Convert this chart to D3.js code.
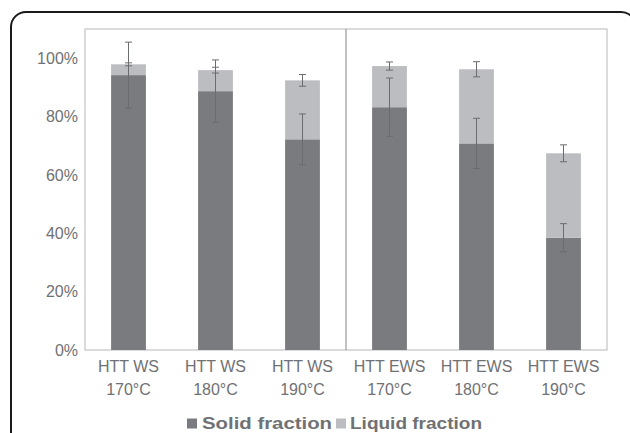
<!DOCTYPE html>
<html>
<head>
<meta charset="utf-8">
<script src="https://cdn.jsdelivr.net/npm/d3@7"></script>
<style>
  html, body { margin: 0; padding: 0; background: #fff; }
  svg { display: block; }
</style>
</head>
<body>
<svg id="chart" width="630" height="433"></svg>
<script>
// ---- data ----
const categoryNames = ["HTT WS", "HTT WS", "HTT WS", "HTT EWS", "HTT EWS", "HTT EWS"];
const temperatures = ["170°C", "180°C", "190°C", "170°C", "180°C", "190°C"];
const solidFraction = [94.2, 88.7, 72.2, 83.2, 70.8, 38.5];
const liquidFraction = [3.7, 7.2, 20.2, 14.1, 25.4, 28.9];
const solidError = [11.3, 10.7, 8.7, 10.0, 8.6, 4.8];
const liquidError = [0.5, 1.0, 2.0, 1.4, 2.6, 2.9];
const yTicks = [0, 20, 40, 60, 80, 100];
const seriesNames = ["Solid fraction", "Liquid fraction"];
const seriesColors = ["#7a7b7e", "#bcbdc0"];

const svg = d3.select("#chart");
const font = "'Liberation Sans', Arial, Helvetica, sans-serif";
const textColor = "#707174";

// outer rounded frame
svg.append("rect")
  .attr("x", 11).attr("y", 12).attr("width", 625).attr("height", 450)
  .attr("rx", 15).attr("ry", 15)
  .attr("fill", "none").attr("stroke", "#1a1a1a").attr("stroke-width", 2);

const plot = { left: 85, right: 607, top: 29, bottom: 350 };

const x = d3.scaleBand()
  .domain(d3.range(categoryNames.length))
  .range([plot.left, plot.right])
  .paddingInner(0.6).paddingOuter(0.3);

const y = d3.scaleLinear().domain([0, 110]).range([plot.bottom, plot.top]);

// plot frame
svg.append("rect")
  .attr("x", plot.left).attr("y", plot.top)
  .attr("width", plot.right - plot.left).attr("height", plot.bottom - plot.top)
  .attr("fill", "none").attr("stroke", "#c4c4c6").attr("stroke-width", 1.2);

// divider between WS and EWS groups
const step = x.step();
const divX = x(3) - (step - x.bandwidth()) / 2;
svg.append("line")
  .attr("x1", divX).attr("x2", divX).attr("y1", plot.top).attr("y2", plot.bottom)
  .attr("stroke", "#858585").attr("stroke-width", 1);

// y axis
const yAxis = d3.axisLeft(y).tickValues(yTicks).tickFormat(d => d + "%").tickSize(0).tickPadding(7);
const yg = svg.append("g").attr("transform", `translate(${plot.left},0)`).call(yAxis);
yg.select(".domain").remove();
yg.selectAll("text")
  .attr("font-family", font).attr("font-size", 16).attr("fill", textColor);

// x axis labels (two lines)
const xAxis = d3.axisBottom(x).tickSize(0).tickFormat(() => "");
const xg = svg.append("g").attr("transform", `translate(0,${plot.bottom})`).call(xAxis);
xg.select(".domain").remove();
xg.selectAll(".tick").each(function(d) {
  const t = d3.select(this).select("text")
    .attr("font-family", font).attr("font-size", 16).attr("fill", textColor)
    .attr("y", 0).attr("dy", null);
  t.append("tspan").attr("x", 0).attr("y", 22).text(categoryNames[d]);
  t.append("tspan").attr("x", 0).attr("y", 45).text(temperatures[d]);
});

// stacked bars
const rows = solidFraction.map((s, i) => ({ i, solid: s, liquid: liquidFraction[i] }));
const stack = d3.stack().keys(["solid", "liquid"]);
const layers = stack(rows);

svg.append("g").selectAll("g")
  .data(layers).join("g")
  .attr("fill", (d, k) => seriesColors[k])
  .selectAll("rect")
  .data(d => d).join("rect")
  .attr("x", d => x(d.data.i))
  .attr("width", x.bandwidth())
  .attr("y", d => y(d[1]))
  .attr("height", d => y(d[0]) - y(d[1]));

// error bars
const errColor = "#6b6c6f";
const capW = 7;
function errorBars(centers, errs) {
  const g = svg.append("g").attr("stroke", errColor).attr("stroke-width", 1).attr("fill", "none");
  centers.forEach((c, i) => {
    const cx = x(i) + x.bandwidth() / 2;
    const y1 = y(c + errs[i]), y2 = y(c - errs[i]);
    g.append("line").attr("x1", cx).attr("x2", cx).attr("y1", y1).attr("y2", y2);
    g.append("line").attr("x1", cx - capW / 2).attr("x2", cx + capW / 2).attr("y1", y1).attr("y2", y1);
    g.append("line").attr("x1", cx - capW / 2).attr("x2", cx + capW / 2).attr("y1", y2).attr("y2", y2);
  });
}
errorBars(solidFraction, solidError);
errorBars(solidFraction.map((s, i) => s + liquidFraction[i]), liquidError);

// legend
const legend = svg.append("g");
const legendItems = [
  { x: 187, tx: 202, w: 130 },
  { x: 336, tx: 350, w: 132 }
];
legendItems.forEach((it, k) => {
  legend.append("rect").attr("x", it.x).attr("y", 418.5).attr("width", 10).attr("height", 10)
    .attr("fill", seriesColors[k]);
  legend.append("text").attr("x", it.tx).attr("y", 428.5)
    .attr("font-family", font).attr("font-size", 17).attr("font-weight", "bold")
    .attr("fill", textColor)
    .attr("textLength", it.w).attr("lengthAdjust", "spacingAndGlyphs")
    .text(seriesNames[k]);
});
</script>
</body>
</html>
